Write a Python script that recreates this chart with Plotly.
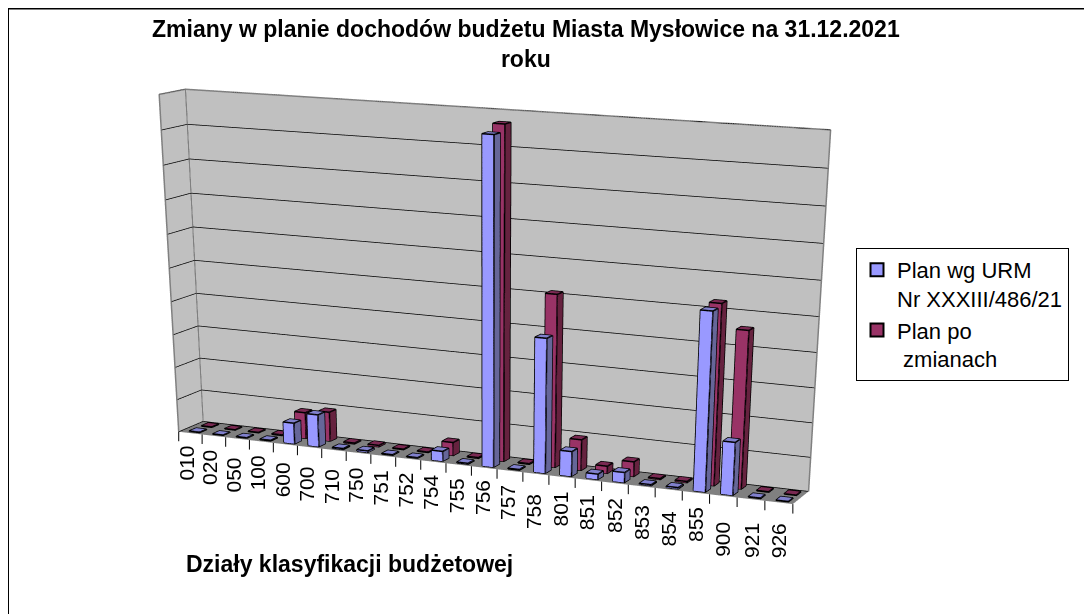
import plotly.graph_objects as go
import math

categories = ["010","020","050","100","600","700","710","750","751","752","754","755",
              "756","757","758","801","851","852","853","854","855","900","921","926"]
label_drop = [30,32,36,31,36,37,36,32,32,31,31,31,30,32,38,32,33,32,36,39,32,43,41,38]
series1_name = "Plan wg URM<br>Nr XXXIII/486/21"
series2_name = "Plan po<br> zmianach"
plan_wg_urm = [0.4,0.3,0.4,0.6,16.0,24.5,0.8,1.2,0.5,0.5,7.5,0.7,
               237.0,0.6,99.0,18.5,4.0,7.5,0.8,1.0,129.0,38.5,0.4,0.3]
plan_po_zmianach = [0.4,0.3,0.4,0.6,20.0,22.5,0.8,1.2,0.5,0.5,10.0,0.7,
                    242.0,0.6,127.0,23.0,5.5,11.0,0.8,1.0,131.0,114.0,0.4,0.3]
grid_step = 25.0
value_max = 250.0

W, H = 1084, 2000
BAR = 0.44
BAR_SHIFT = 0.06
DEPTH = 0.56
ROLL = -0.0127
FACE = {"s1": ("#9999FF", "#666699", "#8080CC"), "s2": ("#993366", "#66223F", "#7A2952")}


def box_traces(values, row, faces, name):
    vx, vy, vz = [], [], []
    ii, jj, kk, fc = [], [], [], []
    ex, ey, ez = [], [], []
    front, side, top = faces
    for c_, v in enumerate(values):
        x0, x1 = c_ + .5 + BAR_SHIFT - BAR/2, c_ + .5 + BAR_SHIFT + BAR/2
        y0, y1 = row + .5 - DEPTH/2, row + .5 + DEPTH/2
        b = len(vx)
        for z in (0, v):
            for (x, y) in ((x0, y0), (x1, y0), (x1, y1), (x0, y1)):
                vx.append(x); vy.append(y); vz.append(z)
        quads = [((0,1,5,4), front), ((1,2,6,5), side), ((4,5,6,7), top), ((0,3,7,4), side), ((3,2,6,7), side)]
        for q, col in quads:
            ii += [b+q[0], b+q[0]]; jj += [b+q[1], b+q[2]]; kk += [b+q[2], b+q[3]]
            fc += [col, col]
        for q in ((0,1,5,4,0), (1,2,6,5), (4,7,6), (3,7)):
            for m in q:
                ex.append(vx[b+m]); ey.append(vy[b+m]); ez.append(vz[b+m])
            ex.append(None); ey.append(None); ez.append(None)
    mesh = go.Mesh3d(x=vx, y=vy, z=vz, i=ii, j=jj, k=kk, facecolor=fc, flatshading=True,
                     lighting=dict(ambient=1, diffuse=0, specular=0, fresnel=0), hoverinfo="skip")
    lines = go.Scatter3d(x=ex, y=ey, z=ez, mode="lines", line=dict(color="black", width=3),
                         hoverinfo="skip", showlegend=False)
    key = go.Scatter3d(x=[None], y=[None], z=[None], mode="markers", name=name,
                       marker=dict(symbol="square", size=13, color=front, line=dict(color="black", width=2)))
    return [mesh, lines, key]


n = len(categories)
frame = go.Scatter3d(
    x=[0,0,n,n,None,0,0,0,0], y=[2,2,2,2,None,0,0,2,2], z=[0,value_max,value_max,0,None,0,value_max,value_max,0],
    mode="lines", line=dict(color="#808080", width=3), hoverinfo="skip", showlegend=False)

fig = go.Figure([frame] + box_traces(plan_po_zmianach, 1, FACE["s2"], series2_name)[:2]
                + box_traces(plan_wg_urm, 0, FACE["s1"], series1_name))
fig.add_trace(box_traces(plan_po_zmianach, 1, FACE["s2"], series2_name)[2])

labels = [dict(x=i+.5, y=0, z=0, text=c_, showarrow=False, textangle=-90, yshift=-label_drop[i],
               xshift=-4 + 4*i/(n-1), font=dict(family="Liberation Sans", size=21, color="black"))
          for i, c_ in enumerate(categories)]
ticks = [dict(x=i, y=0, z=0, text="\u200b", showarrow=True, arrowhead=0, arrowwidth=1,
              arrowcolor="black", ax=0, ay=18, standoff=0)
         for i in range(n+1)]

fig.update_layout(
    width=W, height=H, margin=dict(l=0, r=0, t=0, b=0), paper_bgcolor="white",
    font=dict(family="Liberation Sans", color="black"),
    showlegend=True,
    legend=dict(x=(856-8)/W, y=1-(248-8)/H, xanchor="left", yanchor="top", bordercolor="black", borderwidth=1,
                font=dict(size=22), valign="top", traceorder="normal", bgcolor="white", itemwidth=30),
    scene=dict(
        domain=dict(x=[0,1], y=[0,1]), dragmode="orbit",
        aspectmode="manual", aspectratio=dict(x=1, y=0.0757, z=0.4948),
        camera=dict(eye=dict(x=1.4666, y=-3.2961, z=0.6619), center=dict(x=-14.1357, y=34.9628, z=-20.3095),
                    up=dict(x=math.sin(ROLL), y=0, z=math.cos(ROLL))),
        xaxis=dict(range=[0,n], title="", showticklabels=False, ticks="", showgrid=False,
                   showbackground=True, backgroundcolor="#C0C0C0", zeroline=False, showline=False, showspikes=False),
        yaxis=dict(range=[0,2], title="", showticklabels=False, ticks="", showgrid=False,
                   showbackground=True, backgroundcolor="#C0C0C0", zeroline=False, showline=False, showspikes=False),
        zaxis=dict(range=[0,value_max], title="", tickvals=[grid_step*i for i in range(11)], showticklabels=False,
                   ticks="", showgrid=True, gridcolor="black", gridwidth=1.5,
                   showbackground=True, backgroundcolor="#808080", zeroline=False, showline=False, showspikes=False),
        annotations=labels+ticks,
    ),
    annotations=[
        dict(text="<b>Zmiany w planie dochodów budżetu Miasta Mysłowice na 31.12.2021<br>roku</b>", x=(526-8)/W, y=1-(44-8)/H,
             xref="paper", yref="paper", showarrow=False, font=dict(size=23), align="center", xanchor="center", yanchor="middle"),
        dict(text="<b>Działy klasyfikacji budżetowej</b>", x=(349-8)/W, y=1-(564-8)/H, xref="paper", yref="paper",
             showarrow=False, font=dict(size=23), xanchor="center", yanchor="middle"),
    ],
    shapes=[dict(type="line", xref="paper", yref="paper", x0=0, x1=1, y0=1, y1=1, line=dict(color="black", width=3)),
            dict(type="line", xref="paper", yref="paper", x0=0, x1=0, y0=0, y1=1, line=dict(color="black", width=2))],
)
fig.write_html("out.html")
